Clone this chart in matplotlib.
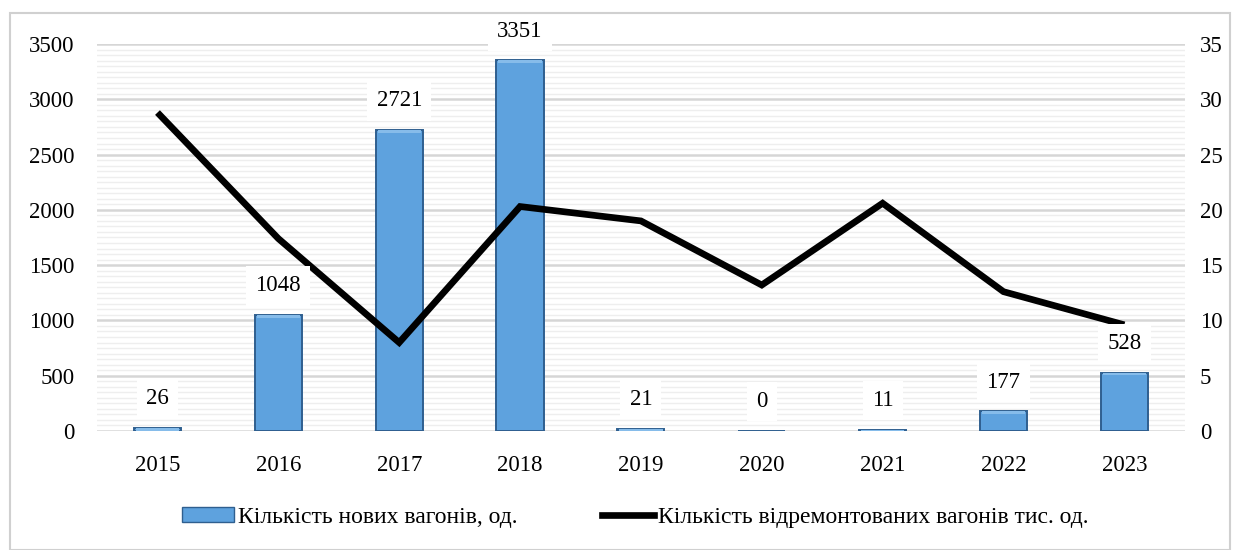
import matplotlib.pyplot as plt
import matplotlib.patches as mpatches
from matplotlib.lines import Line2D
import numpy as np

plt.rcParams['font.family'] = ['Liberation Serif', 'DejaVu Serif']

years = ['2015', '2016', '2017', '2018', '2019', '2020', '2021', '2022', '2023']
new_wagons = [26, 1048, 2721, 3351, 21, 0, 11, 177, 528]
repaired_thousands = [28.8, 17.4, 8.0, 20.3, 19.0, 13.2, 20.6, 12.6, 9.6]

bar_label = 'Кількість нових вагонів, од.'
line_label = 'Кількість відремонтованих вагонів тис. од.'

fig = plt.figure(figsize=(12.38, 5.5), dpi=100)
ax = fig.add_axes([0.0784, 0.2164, 0.8786, 0.7036])
ax2 = ax.twinx()

x = np.arange(len(years))

# striped background: faint minor lines plus stronger major grid
ax.set_ylim(0, 3500)
ax.set_yticks(np.arange(0, 3501, 500))
ax.set_yticks(np.arange(0, 3501, 50), minor=True)
ax.grid(axis='y', which='minor', color='#EEEEEE', lw=1.0, zorder=0)
ax.grid(axis='y', which='major', color='#D6D6D6', lw=1.8, zorder=0)
ax.set_axisbelow(True)

bars = ax.bar(x, new_wagons, width=0.39, color='#5EA2DE', edgecolor='#2F5F8F',
              linewidth=1.4, zorder=2)
# light bevel along the top of each bar
for b in bars:
    h = b.get_height()
    if h > 0:
        cap = min(h, 25)
        ax.bar(b.get_x() + b.get_width() / 2, cap, bottom=h - cap,
               width=b.get_width() * 0.92, color='#86BCEA', linewidth=0, zorder=2.5)

ax.set_xlim(-0.5, len(years) - 0.5)
ax.set_xticks(x)
ax.set_xticklabels(years)
for s in ax.spines.values():
    s.set_visible(False)
for s in ax2.spines.values():
    s.set_visible(False)
ax.tick_params(axis='both', which='both', length=0, labelsize=16.5)
ax.tick_params(axis='x', pad=17)
ax.tick_params(axis='y', pad=16)

ax2.plot(x, repaired_thousands, color='black', lw=4.8, solid_capstyle='butt',
         solid_joinstyle='miter', zorder=3)
ax2.set_ylim(0, 35)
ax2.set_yticks(np.arange(0, 36, 5))
ax2.tick_params(axis='y', length=0, labelsize=16.5, pad=11)

# value labels sit above the line
for xi, v in zip(x, new_wagons):
    ax2.annotate(str(v), xy=(xi, v), xycoords=ax.transData,
                 xytext=(0, 21), textcoords='offset points',
                 ha='center', va='center', fontsize=16.5, zorder=5,
                 bbox=dict(boxstyle='square,pad=0.4', fc='white', ec='none'))

handles = [mpatches.Rectangle((0, 0), 1, 1, facecolor='#5EA2DE', edgecolor='#2F5F8F'),
           Line2D([0], [0], color='black', lw=4.8)]
fig.legend(handles, [bar_label, line_label], loc='center', ncol=2,
           bbox_to_anchor=(0.513, 0.06), frameon=False, fontsize=17,
           handlelength=2.2, handleheight=0.6, handletextpad=0.15, columnspacing=3.6)

fig.add_artist(mpatches.Rectangle((10 / 1238, 0.0), 1220 / 1238, 537 / 550,
                                  transform=fig.transFigure, fill=False,
                                  edgecolor='#D0D0D0', lw=1.5))

fig.savefig('out.png', dpi=100)
